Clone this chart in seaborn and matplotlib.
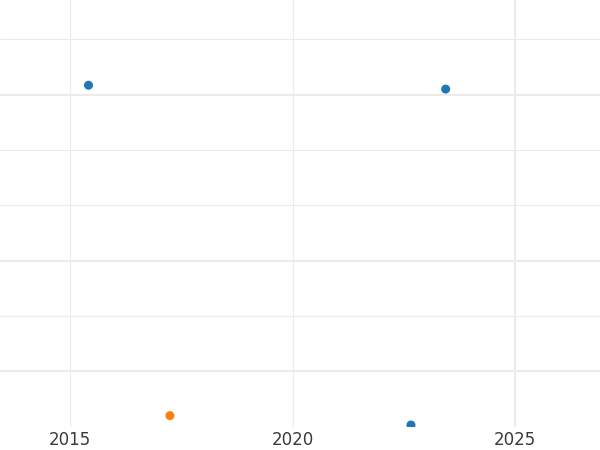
import matplotlib
matplotlib.use("Agg")
import matplotlib.pyplot as plt
import seaborn as sns
import pandas as pd

# data
years = [2015.41, 2023.44, 2022.66, 2017.24]
values = [6.17, 6.10, 0.03, 0.20]
groups = ["A", "A", "A", "B"]
x_ticks = [2015, 2020, 2025]
x_tick_labels = ["2015", "2020", "2025"]
y_grid = [1, 2, 3, 4, 5, 6, 7]

df = pd.DataFrame({"year": years, "value": values, "group": groups})

sns.set_theme(style="white")
plt.rcParams['font.family'] = ['DejaVu Sans']

fig = plt.figure(figsize=(6, 4.5), dpi=100)
ax = fig.add_axes([0, 1 - 426.7 / 450, 1, 426.7 / 450])

sns.scatterplot(data=df, x="year", y="value", hue="group",
                palette=["#1f77b4", "#ff7f0e"], s=42, linewidth=0,
                legend=False, ax=ax, zorder=3)

ax.set_xlim(2013.42, 2026.91)
ax.set_ylim(0, 7.71)
ax.set_xticks(x_ticks)
ax.set_xticklabels(x_tick_labels)
ax.set_yticks(y_grid)
ax.set_yticklabels([])
ax.tick_params(axis="both", length=0)
ax.tick_params(axis="x", labelsize=12, labelcolor="#3a3a3a", pad=3)
ax.set_xlabel("")
ax.set_ylabel("")
for s in ax.spines.values():
    s.set_visible(False)

ax.grid(True, color="#ebebeb", linewidth=0.8, zorder=0)
ax.set_axisbelow(True)
thick_y = {1, 3, 6}
for val, gl in zip(y_grid, ax.get_ygridlines()):
    gl.set_linewidth(1.5 if val in thick_y else 0.8)
for val, gl in zip(x_ticks, ax.get_xgridlines()):
    gl.set_linewidth(1.5 if val == 2025 else 0.8)

fig.savefig("out.png", dpi=100)
